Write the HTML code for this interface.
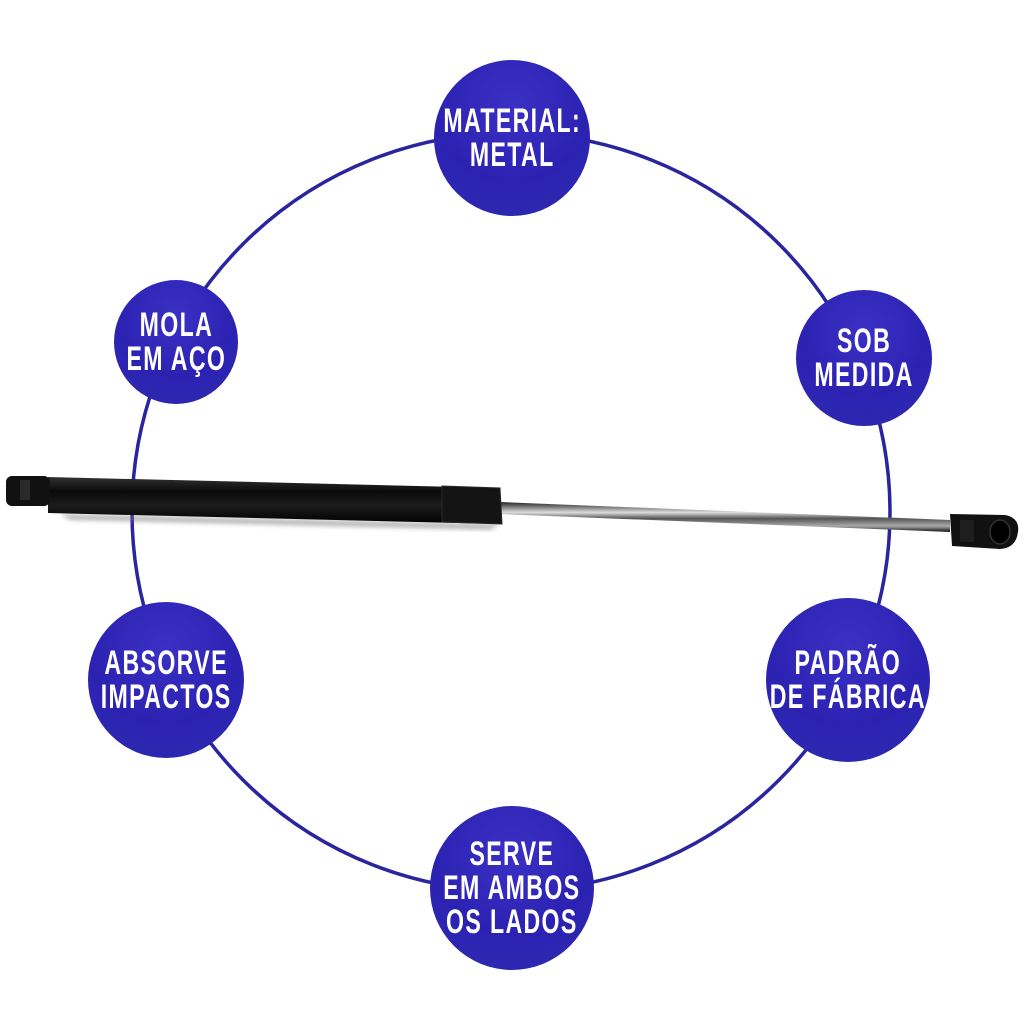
<!DOCTYPE html>
<html><head><meta charset="utf-8"><style>
html,body{margin:0;padding:0;background:#fff;}
body{width:1024px;height:1024px;position:relative;overflow:hidden;}
.n{position:absolute;border-radius:50%;background:radial-gradient(circle at 50% 30%,#3a30c4 0%,#2c22b2 55%,#2d2bb0 100%);display:flex;align-items:center;justify-content:center;}
.n span{display:block;color:#fff;font-family:"Liberation Sans",sans-serif;font-weight:bold;font-size:34px;line-height:34px;text-align:center;transform:scaleX(0.68);white-space:nowrap;letter-spacing:2px;}
svg{position:absolute;left:0;top:0;}
</style></head><body>
<svg width="1024" height="1024">
<circle cx="511" cy="512" r="379" fill="none" stroke="#2b249f" stroke-width="3.5"/>
</svg>
<div class="n" style="left:434px;top:60px;width:156px;height:156px;"><span>MATERIAL:<br>METAL</span></div>
<div class="n" style="left:114px;top:280px;width:124px;height:124px;"><span>MOLA<br>EM AÇO</span></div>
<div class="n" style="left:796px;top:290px;width:136px;height:136px;"><span>SOB<br>MEDIDA</span></div>
<div class="n" style="left:88px;top:602px;width:156px;height:156px;"><span>ABSORVE<br>IMPACTOS</span></div>
<div class="n" style="left:766px;top:598px;width:164px;height:164px;"><span>PADRÃO<br>DE FÁBRICA</span></div>
<div class="n" style="left:430px;top:806px;width:164px;height:164px;"><span>SERVE<br>EM AMBOS<br>OS LADOS</span></div>
<svg width="1024" height="1024">
<defs>
<linearGradient id="rod" x1="0" y1="0" x2="0" y2="1">
<stop offset="0" stop-color="#222"/><stop offset="0.35" stop-color="#ddd"/><stop offset="0.55" stop-color="#555"/><stop offset="0.8" stop-color="#aaa"/><stop offset="1" stop-color="#111"/>
</linearGradient>
<linearGradient id="cyl" x1="0" y1="0" x2="0" y2="1">
<stop offset="0" stop-color="#333"/><stop offset="0.3" stop-color="#0a0a0a"/><stop offset="0.6" stop-color="#1c1c1c"/><stop offset="1" stop-color="#000"/>
</linearGradient>
<filter id="bl"><feGaussianBlur stdDeviation="2"/></filter>
</defs>
<polygon points="60,514 500,524 490,530 70,520" fill="#777" opacity="0.5" filter="url(#bl)"/>
<polygon points="500,502 950,520 950,532 500,514" fill="url(#rod)"/>
<polygon points="48,477 500,488 500,524 48,513" fill="url(#cyl)"/>
<polygon points="442,486 500,488 502,524 442,522" fill="#141414" stroke="#2a2a2a" stroke-width="1"/>
<rect x="6" y="476" width="44" height="30" rx="6" fill="#111"/>
<rect x="20" y="480" width="10" height="20" fill="#2a2a2a"/>
<path d="M950,514 L1005,515 Q1020,518 1018,532 Q1016,548 1000,549 L952,546 Z" fill="#111"/>
<ellipse cx="1000" cy="532" rx="10" ry="12" fill="#000" stroke="#333" stroke-width="1.5"/>
<rect x="960" y="520" width="14" height="22" fill="#1e1e1e"/>
</svg>
</body></html>
